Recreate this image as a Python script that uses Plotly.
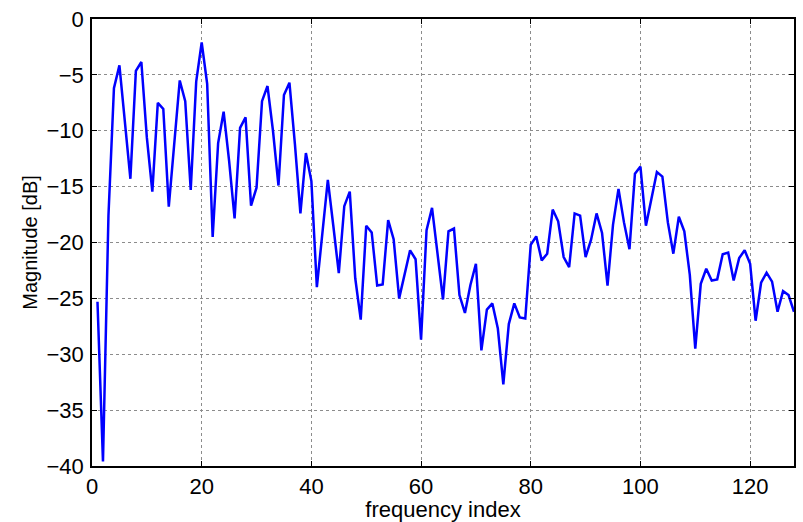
import plotly.graph_objects as go

freq_index = list(range(1, 129))
magnitude_db = [
    -25.3, -39.6, -17.6, -6.2, -4.15, -9.5, -14.3, -4.65, -3.85, -10.6,
    -15.45, -7.5, -8.05, -16.8, -11.5, -5.5, -7.35, -15.3, -5.6, -2.1,
    -5.8, -19.5, -11.1, -8.3, -12.7, -17.85, -9.75, -8.8, -16.7, -15.1,
    -7.35, -6.0, -10.0, -14.9, -6.8, -5.7, -11.2, -17.4, -12.0, -14.5,
    -24.0, -19.0, -14.4, -18.5, -22.75, -16.75, -15.45, -23.2, -26.9, -18.5,
    -19.1, -23.85, -23.75, -18.0, -19.7, -25.0, -22.9, -20.7, -21.5, -28.7,
    -18.9, -16.9, -21.0, -25.1, -19.0, -18.75, -24.7, -26.3, -23.8, -21.9,
    -29.65, -26.0, -25.45, -27.7, -32.7, -27.3, -25.45, -26.7, -26.8, -20.2,
    -19.45, -21.6, -21.0, -17.05, -18.1, -21.3, -22.2, -17.4, -17.6, -21.3,
    -19.75, -17.4, -19.15, -23.85, -18.4, -15.2, -18.2, -20.6, -13.85, -13.2,
    -18.5, -16.2, -13.7, -14.1, -18.2, -21.0, -17.7, -19.0, -22.9, -29.5,
    -23.7, -22.35, -23.4, -23.3, -21.05, -20.9, -23.4, -21.4, -20.7, -21.9,
    -27.0, -23.6, -22.7, -23.5, -26.2, -24.35, -24.7, -26.2,
]
x_ticks = [0, 20, 40, 60, 80, 100, 120]
y_ticks = [0, -5, -10, -15, -20, -25, -30, -35, -40]

FONT = "Liberation Sans, Arial, sans-serif"

fig = go.Figure()
fig.add_trace(go.Scatter(
    x=freq_index, y=magnitude_db, mode="lines",
    line=dict(color="#0000ff", width=2.5),
))

axis_common = dict(
    showline=True, linecolor="black", linewidth=1.5, mirror="allticks",
    ticks="inside", ticklen=5, tickcolor="black", tickwidth=1,
    showgrid=True, gridcolor="#8c8c8c", griddash="dot", gridwidth=1,
    zeroline=False,
    tickfont=dict(family=FONT, size=22, color="black"),
)

fig.update_layout(
    width=803, height=522,
    margin=dict(l=92, r=7, t=16, b=55),
    paper_bgcolor="white", plot_bgcolor="white",
    showlegend=False,
    font=dict(family=FONT, color="black"),
    xaxis=dict(
        range=[0, 128], tickvals=x_ticks,
        title=dict(text="frequency index", font=dict(size=22), standoff=0),
        ticklabelstandoff=0,
        **axis_common,
    ),
    yaxis=dict(
        range=[-40, 0], tickvals=y_ticks,
        title=dict(text="Magnitude [dB]", font=dict(size=20), standoff=4),
        ticklabelstandoff=2,
        **axis_common,
    ),
)

fig.write_html("out.html")
